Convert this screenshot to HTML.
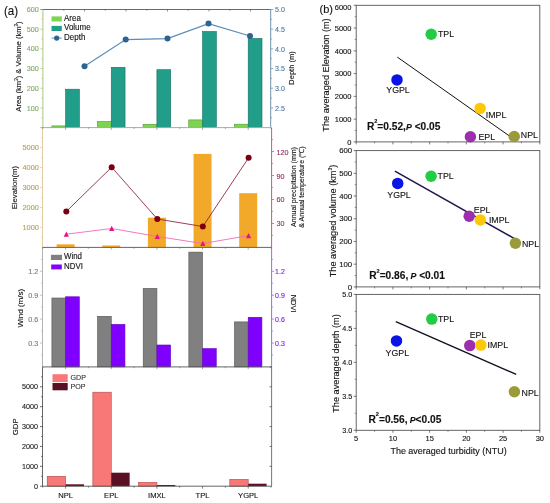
<!DOCTYPE html>
<html><head><meta charset="utf-8"><style>
html,body{margin:0;padding:0;background:#fff;width:550px;height:503px;overflow:hidden}
svg{display:block;will-change:transform}
text{font-family:"Liberation Sans", sans-serif;stroke-width:0.12;paint-order:stroke}
</style></head><body>
<svg width="550" height="503" viewBox="0 0 550 503">
<rect width="550" height="503" fill="#fff"/>
<rect x="51.80" y="125.90" width="13.80" height="1.70" fill="#7ed450" stroke="#4c9a30" stroke-width="0.6"/>
<rect x="65.60" y="89.20" width="13.80" height="38.40" fill="#209e89" stroke="#17705f" stroke-width="0.6"/>
<rect x="97.45" y="121.50" width="13.80" height="6.10" fill="#7ed450" stroke="#4c9a30" stroke-width="0.6"/>
<rect x="111.25" y="67.30" width="13.80" height="60.30" fill="#209e89" stroke="#17705f" stroke-width="0.6"/>
<rect x="143.10" y="124.40" width="13.80" height="3.20" fill="#7ed450" stroke="#4c9a30" stroke-width="0.6"/>
<rect x="156.90" y="69.70" width="13.80" height="57.90" fill="#209e89" stroke="#17705f" stroke-width="0.6"/>
<rect x="188.75" y="119.90" width="13.80" height="7.70" fill="#7ed450" stroke="#4c9a30" stroke-width="0.6"/>
<rect x="202.55" y="31.50" width="13.80" height="96.10" fill="#209e89" stroke="#17705f" stroke-width="0.6"/>
<rect x="234.40" y="124.20" width="13.80" height="3.40" fill="#7ed450" stroke="#4c9a30" stroke-width="0.6"/>
<rect x="248.20" y="38.50" width="13.80" height="89.10" fill="#209e89" stroke="#17705f" stroke-width="0.6"/>
<polyline points="84.50,66.20 125.70,39.60 167.50,38.60 208.50,23.60 250.00,36.00" fill="none" stroke="#5a8cba" stroke-width="1.2"/>
<circle cx="84.50" cy="66.20" r="3.0" fill="#2d6391"/>
<circle cx="125.70" cy="39.60" r="3.0" fill="#2d6391"/>
<circle cx="167.50" cy="38.60" r="3.0" fill="#2d6391"/>
<circle cx="208.50" cy="23.60" r="3.0" fill="#2d6391"/>
<circle cx="250.00" cy="36.00" r="3.0" fill="#2d6391"/>
<line x1="40.40" y1="9.50" x2="270.70" y2="9.50" stroke="#444" stroke-width="0.8"/>
<line x1="63.75" y1="9.50" x2="63.75" y2="10.70" stroke="#444" stroke-width="0.6"/>
<line x1="84.50" y1="9.50" x2="84.50" y2="11.50" stroke="#444" stroke-width="0.6"/>
<line x1="105.25" y1="9.50" x2="105.25" y2="10.70" stroke="#444" stroke-width="0.6"/>
<line x1="126.00" y1="9.50" x2="126.00" y2="11.50" stroke="#444" stroke-width="0.6"/>
<line x1="146.75" y1="9.50" x2="146.75" y2="10.70" stroke="#444" stroke-width="0.6"/>
<line x1="167.50" y1="9.50" x2="167.50" y2="11.50" stroke="#444" stroke-width="0.6"/>
<line x1="188.25" y1="9.50" x2="188.25" y2="10.70" stroke="#444" stroke-width="0.6"/>
<line x1="209.00" y1="9.50" x2="209.00" y2="11.50" stroke="#444" stroke-width="0.6"/>
<line x1="229.75" y1="9.50" x2="229.75" y2="10.70" stroke="#444" stroke-width="0.6"/>
<line x1="250.50" y1="9.50" x2="250.50" y2="11.50" stroke="#444" stroke-width="0.6"/>
<line x1="42.90" y1="9.50" x2="42.90" y2="127.60" stroke="#9cc46c" stroke-width="0.9"/>
<line x1="41.40" y1="117.76" x2="42.90" y2="117.76" stroke="#9cc46c" stroke-width="0.6"/>
<line x1="40.40" y1="107.92" x2="42.90" y2="107.92" stroke="#9cc46c" stroke-width="0.7"/>
<text x="0" y="0" font-size="7.250" fill="#86a86a" stroke="#86a86a" text-anchor="end" font-weight="normal" transform="translate(38.80 110.52) scale(1 1.04)">100</text>
<line x1="41.40" y1="98.07" x2="42.90" y2="98.07" stroke="#9cc46c" stroke-width="0.6"/>
<line x1="40.40" y1="88.23" x2="42.90" y2="88.23" stroke="#9cc46c" stroke-width="0.7"/>
<text x="0" y="0" font-size="7.250" fill="#86a86a" stroke="#86a86a" text-anchor="end" font-weight="normal" transform="translate(38.80 90.83) scale(1 1.04)">200</text>
<line x1="41.40" y1="78.39" x2="42.90" y2="78.39" stroke="#9cc46c" stroke-width="0.6"/>
<line x1="40.40" y1="68.55" x2="42.90" y2="68.55" stroke="#9cc46c" stroke-width="0.7"/>
<text x="0" y="0" font-size="7.250" fill="#86a86a" stroke="#86a86a" text-anchor="end" font-weight="normal" transform="translate(38.80 71.15) scale(1 1.04)">300</text>
<line x1="41.40" y1="58.71" x2="42.90" y2="58.71" stroke="#9cc46c" stroke-width="0.6"/>
<line x1="40.40" y1="48.87" x2="42.90" y2="48.87" stroke="#9cc46c" stroke-width="0.7"/>
<text x="0" y="0" font-size="7.250" fill="#86a86a" stroke="#86a86a" text-anchor="end" font-weight="normal" transform="translate(38.80 51.47) scale(1 1.04)">400</text>
<line x1="41.40" y1="39.02" x2="42.90" y2="39.02" stroke="#9cc46c" stroke-width="0.6"/>
<line x1="40.40" y1="29.18" x2="42.90" y2="29.18" stroke="#9cc46c" stroke-width="0.7"/>
<text x="0" y="0" font-size="7.250" fill="#86a86a" stroke="#86a86a" text-anchor="end" font-weight="normal" transform="translate(38.80 31.78) scale(1 1.04)">500</text>
<line x1="41.40" y1="19.34" x2="42.90" y2="19.34" stroke="#9cc46c" stroke-width="0.6"/>
<line x1="40.40" y1="9.50" x2="42.90" y2="9.50" stroke="#9cc46c" stroke-width="0.7"/>
<text x="0" y="0" font-size="7.250" fill="#86a86a" stroke="#86a86a" text-anchor="end" font-weight="normal" transform="translate(38.80 12.10) scale(1 1.04)">600</text>
<line x1="270.70" y1="9.50" x2="270.70" y2="127.60" stroke="#5f86a8" stroke-width="0.9"/>
<line x1="270.70" y1="117.76" x2="272.20" y2="117.76" stroke="#5f86a8" stroke-width="0.6"/>
<line x1="270.70" y1="107.92" x2="273.20" y2="107.92" stroke="#5f86a8" stroke-width="0.7"/>
<text x="0" y="0" font-size="7.100" fill="#4f7aa0" stroke="#4f7aa0" text-anchor="start" font-weight="normal" transform="translate(275.10 110.62) scale(1 1.04)">2.5</text>
<line x1="270.70" y1="98.08" x2="272.20" y2="98.08" stroke="#5f86a8" stroke-width="0.6"/>
<line x1="270.70" y1="88.23" x2="273.20" y2="88.23" stroke="#5f86a8" stroke-width="0.7"/>
<text x="0" y="0" font-size="7.100" fill="#4f7aa0" stroke="#4f7aa0" text-anchor="start" font-weight="normal" transform="translate(275.10 90.93) scale(1 1.04)">3.0</text>
<line x1="270.70" y1="78.39" x2="272.20" y2="78.39" stroke="#5f86a8" stroke-width="0.6"/>
<line x1="270.70" y1="68.55" x2="273.20" y2="68.55" stroke="#5f86a8" stroke-width="0.7"/>
<text x="0" y="0" font-size="7.100" fill="#4f7aa0" stroke="#4f7aa0" text-anchor="start" font-weight="normal" transform="translate(275.10 71.25) scale(1 1.04)">3.5</text>
<line x1="270.70" y1="58.71" x2="272.20" y2="58.71" stroke="#5f86a8" stroke-width="0.6"/>
<line x1="270.70" y1="48.87" x2="273.20" y2="48.87" stroke="#5f86a8" stroke-width="0.7"/>
<text x="0" y="0" font-size="7.100" fill="#4f7aa0" stroke="#4f7aa0" text-anchor="start" font-weight="normal" transform="translate(275.10 51.57) scale(1 1.04)">4.0</text>
<line x1="270.70" y1="39.03" x2="272.20" y2="39.03" stroke="#5f86a8" stroke-width="0.6"/>
<line x1="270.70" y1="29.18" x2="273.20" y2="29.18" stroke="#5f86a8" stroke-width="0.7"/>
<text x="0" y="0" font-size="7.100" fill="#4f7aa0" stroke="#4f7aa0" text-anchor="start" font-weight="normal" transform="translate(275.10 31.88) scale(1 1.04)">4.5</text>
<line x1="270.70" y1="19.34" x2="272.20" y2="19.34" stroke="#5f86a8" stroke-width="0.6"/>
<line x1="270.70" y1="9.50" x2="273.20" y2="9.50" stroke="#5f86a8" stroke-width="0.7"/>
<text x="0" y="0" font-size="7.100" fill="#4f7aa0" stroke="#4f7aa0" text-anchor="start" font-weight="normal" transform="translate(275.10 12.20) scale(1 1.04)">5.0</text>
<text x="0" y="0" font-size="7.500" fill="#111" stroke="#111" text-anchor="middle" font-weight="normal" transform="translate(293.50 68.00) rotate(-90)">Depth (m)</text>
<rect x="51.50" y="16.40" width="10.30" height="5.10" fill="#7ed450"/>
<rect x="51.50" y="25.90" width="10.30" height="5.10" fill="#209e89"/>
<line x1="51.50" y1="38.10" x2="61.80" y2="38.10" stroke="#4f86b4" stroke-width="0.9"/>
<circle cx="56.70" cy="38.10" r="2.6" fill="#2d6391"/>
<text x="0" y="0" font-size="8.000" fill="#111" stroke="#111" text-anchor="start" font-weight="normal" transform="translate(64.00 20.50) scale(1 1.04)">Area</text>
<text x="0" y="0" font-size="8.000" fill="#111" stroke="#111" text-anchor="start" font-weight="normal" transform="translate(64.00 30.00) scale(1 1.04)">Volume</text>
<text x="0" y="0" font-size="8.000" fill="#111" stroke="#111" text-anchor="start" font-weight="normal" transform="translate(64.00 39.80) scale(1 1.04)">Depth</text>
<text x="0" y="0" font-size="7.600" fill="#111" stroke="#111" text-anchor="middle" font-weight="normal" transform="translate(20.80 66.50) rotate(-90)">Area (km<tspan font-size="4.5" dy="-3">2</tspan><tspan dy="3">) &amp; Volume (km</tspan><tspan font-size="4.5" dy="-3">3</tspan><tspan dy="3">)</tspan></text>
<rect x="56.60" y="244.30" width="18.00" height="3.10" fill="#f2a92a"/>
<rect x="102.25" y="245.50" width="18.00" height="1.90" fill="#f2a92a"/>
<rect x="147.90" y="217.70" width="18.00" height="29.70" fill="#f2a92a"/>
<rect x="193.55" y="153.90" width="18.00" height="93.50" fill="#f2a92a"/>
<rect x="239.20" y="193.20" width="18.00" height="54.20" fill="#f2a92a"/>
<polyline points="66.30,211.50 111.70,167.20 157.30,219.00 202.80,226.50 248.60,157.80" fill="none" stroke="#8e2a40" stroke-width="0.9"/>
<polyline points="66.30,234.20 111.70,228.50 157.30,236.50 202.80,243.50 248.60,235.60" fill="none" stroke="#ef6cb4" stroke-width="0.9"/>
<circle cx="66.30" cy="211.50" r="3.0" fill="#7a0010"/>
<circle cx="111.70" cy="167.20" r="3.0" fill="#7a0010"/>
<circle cx="157.30" cy="219.00" r="3.0" fill="#7a0010"/>
<circle cx="202.80" cy="226.50" r="3.0" fill="#7a0010"/>
<circle cx="248.60" cy="157.80" r="3.0" fill="#7a0010"/>
<polygon points="66.30,231.50 63.66,236.75 68.94,236.75" fill="#ea1088"/>
<polygon points="111.70,225.80 109.06,231.05 114.34,231.05" fill="#ea1088"/>
<polygon points="157.30,233.80 154.66,239.05 159.94,239.05" fill="#ea1088"/>
<polygon points="202.80,240.80 200.16,246.05 205.44,246.05" fill="#ea1088"/>
<polygon points="248.60,232.90 245.96,238.15 251.24,238.15" fill="#ea1088"/>
<line x1="42.50" y1="127.60" x2="42.50" y2="247.40" stroke="#e0c898" stroke-width="0.9"/>
<line x1="41.00" y1="237.42" x2="42.50" y2="237.42" stroke="#e0c898" stroke-width="0.6"/>
<line x1="40.00" y1="227.43" x2="42.50" y2="227.43" stroke="#e0c898" stroke-width="0.7"/>
<text x="0" y="0" font-size="7.400" fill="#b9a050" stroke="#b9a050" text-anchor="end" font-weight="normal" transform="translate(38.90 230.03) scale(1 1.04)">1000</text>
<line x1="41.00" y1="217.45" x2="42.50" y2="217.45" stroke="#e0c898" stroke-width="0.6"/>
<line x1="40.00" y1="207.47" x2="42.50" y2="207.47" stroke="#e0c898" stroke-width="0.7"/>
<text x="0" y="0" font-size="7.400" fill="#b9a050" stroke="#b9a050" text-anchor="end" font-weight="normal" transform="translate(38.90 210.07) scale(1 1.04)">2000</text>
<line x1="41.00" y1="197.48" x2="42.50" y2="197.48" stroke="#e0c898" stroke-width="0.6"/>
<line x1="40.00" y1="187.50" x2="42.50" y2="187.50" stroke="#e0c898" stroke-width="0.7"/>
<text x="0" y="0" font-size="7.400" fill="#b9a050" stroke="#b9a050" text-anchor="end" font-weight="normal" transform="translate(38.90 190.10) scale(1 1.04)">3000</text>
<line x1="41.00" y1="177.52" x2="42.50" y2="177.52" stroke="#e0c898" stroke-width="0.6"/>
<line x1="40.00" y1="167.53" x2="42.50" y2="167.53" stroke="#e0c898" stroke-width="0.7"/>
<text x="0" y="0" font-size="7.400" fill="#b9a050" stroke="#b9a050" text-anchor="end" font-weight="normal" transform="translate(38.90 170.13) scale(1 1.04)">4000</text>
<line x1="41.00" y1="157.55" x2="42.50" y2="157.55" stroke="#e0c898" stroke-width="0.6"/>
<line x1="40.00" y1="147.57" x2="42.50" y2="147.57" stroke="#e0c898" stroke-width="0.7"/>
<text x="0" y="0" font-size="7.400" fill="#b9a050" stroke="#b9a050" text-anchor="end" font-weight="normal" transform="translate(38.90 150.17) scale(1 1.04)">5000</text>
<line x1="41.00" y1="137.58" x2="42.50" y2="137.58" stroke="#e0c898" stroke-width="0.6"/>
<line x1="271.60" y1="127.60" x2="271.60" y2="247.40" stroke="#b84a7e" stroke-width="0.9"/>
<line x1="271.60" y1="235.42" x2="273.10" y2="235.42" stroke="#b84a7e" stroke-width="0.6"/>
<line x1="271.60" y1="223.44" x2="274.10" y2="223.44" stroke="#b84a7e" stroke-width="0.7"/>
<text x="0" y="0" font-size="7.200" fill="#9a2e64" stroke="#9a2e64" text-anchor="start" font-weight="normal" transform="translate(276.60 226.44) scale(1 1.04)">30</text>
<line x1="271.60" y1="211.46" x2="273.10" y2="211.46" stroke="#b84a7e" stroke-width="0.6"/>
<line x1="271.60" y1="199.48" x2="274.10" y2="199.48" stroke="#b84a7e" stroke-width="0.7"/>
<text x="0" y="0" font-size="7.200" fill="#9a2e64" stroke="#9a2e64" text-anchor="start" font-weight="normal" transform="translate(276.60 202.48) scale(1 1.04)">60</text>
<line x1="271.60" y1="187.50" x2="273.10" y2="187.50" stroke="#b84a7e" stroke-width="0.6"/>
<line x1="271.60" y1="175.52" x2="274.10" y2="175.52" stroke="#b84a7e" stroke-width="0.7"/>
<text x="0" y="0" font-size="7.200" fill="#9a2e64" stroke="#9a2e64" text-anchor="start" font-weight="normal" transform="translate(276.60 178.52) scale(1 1.04)">90</text>
<line x1="271.60" y1="163.54" x2="273.10" y2="163.54" stroke="#b84a7e" stroke-width="0.6"/>
<line x1="271.60" y1="151.56" x2="274.10" y2="151.56" stroke="#b84a7e" stroke-width="0.7"/>
<text x="0" y="0" font-size="7.200" fill="#9a2e64" stroke="#9a2e64" text-anchor="start" font-weight="normal" transform="translate(276.60 154.56) scale(1 1.04)">120</text>
<line x1="271.60" y1="139.58" x2="273.10" y2="139.58" stroke="#b84a7e" stroke-width="0.6"/>
<text x="0" y="0" font-size="7.000" fill="#111" stroke="#111" text-anchor="middle" font-weight="normal" transform="translate(295.50 187.00) rotate(-90)">Annual precipitation (mm)</text>
<text x="0" y="0" font-size="7.000" fill="#111" stroke="#111" text-anchor="middle" font-weight="normal" transform="translate(304.00 187.00) rotate(-90)">&amp; Annual temperature (℃)</text>
<text x="0" y="0" font-size="7.750" fill="#111" stroke="#111" text-anchor="middle" font-weight="normal" transform="translate(17.40 187.60) rotate(-90)">Elevation(m)</text>
<line x1="40.40" y1="127.60" x2="270.70" y2="127.60" stroke="#aaa" stroke-width="1.0"/>
<line x1="42.77" y1="127.60" x2="42.77" y2="128.90" stroke="#666" stroke-width="0.6"/>
<line x1="65.60" y1="127.60" x2="65.60" y2="129.80" stroke="#666" stroke-width="0.6"/>
<line x1="88.42" y1="127.60" x2="88.42" y2="128.90" stroke="#666" stroke-width="0.6"/>
<line x1="111.25" y1="127.60" x2="111.25" y2="129.80" stroke="#666" stroke-width="0.6"/>
<line x1="134.07" y1="127.60" x2="134.07" y2="128.90" stroke="#666" stroke-width="0.6"/>
<line x1="156.90" y1="127.60" x2="156.90" y2="129.80" stroke="#666" stroke-width="0.6"/>
<line x1="179.72" y1="127.60" x2="179.72" y2="128.90" stroke="#666" stroke-width="0.6"/>
<line x1="202.55" y1="127.60" x2="202.55" y2="129.80" stroke="#666" stroke-width="0.6"/>
<line x1="225.38" y1="127.60" x2="225.38" y2="128.90" stroke="#666" stroke-width="0.6"/>
<line x1="248.20" y1="127.60" x2="248.20" y2="129.80" stroke="#666" stroke-width="0.6"/>
<line x1="271.02" y1="127.60" x2="271.02" y2="128.90" stroke="#666" stroke-width="0.6"/>
<rect x="51.90" y="298.00" width="13.70" height="68.90" fill="#808080" stroke="#555" stroke-width="0.6"/>
<rect x="65.60" y="296.80" width="13.70" height="70.10" fill="#8000ff" stroke="#6000c0" stroke-width="0.6"/>
<rect x="97.55" y="316.30" width="13.70" height="50.60" fill="#808080" stroke="#555" stroke-width="0.6"/>
<rect x="111.25" y="324.40" width="13.70" height="42.50" fill="#8000ff" stroke="#6000c0" stroke-width="0.6"/>
<rect x="143.20" y="288.40" width="13.70" height="78.50" fill="#808080" stroke="#555" stroke-width="0.6"/>
<rect x="156.90" y="345.00" width="13.70" height="21.90" fill="#8000ff" stroke="#6000c0" stroke-width="0.6"/>
<rect x="188.85" y="252.10" width="13.70" height="114.80" fill="#808080" stroke="#555" stroke-width="0.6"/>
<rect x="202.55" y="348.60" width="13.70" height="18.30" fill="#8000ff" stroke="#6000c0" stroke-width="0.6"/>
<rect x="234.50" y="321.90" width="13.70" height="45.00" fill="#808080" stroke="#555" stroke-width="0.6"/>
<rect x="248.20" y="317.30" width="13.70" height="49.60" fill="#8000ff" stroke="#6000c0" stroke-width="0.6"/>
<line x1="42.50" y1="247.40" x2="42.50" y2="366.90" stroke="#aaa" stroke-width="0.9"/>
<line x1="41.00" y1="354.95" x2="42.50" y2="354.95" stroke="#aaa" stroke-width="0.6"/>
<line x1="40.00" y1="343.00" x2="42.50" y2="343.00" stroke="#aaa" stroke-width="0.7"/>
<text x="0" y="0" font-size="7.300" fill="#7a7a7a" stroke="#7a7a7a" text-anchor="end" font-weight="normal" transform="translate(38.40 345.60) scale(1 1.04)">0.3</text>
<line x1="41.00" y1="331.05" x2="42.50" y2="331.05" stroke="#aaa" stroke-width="0.6"/>
<line x1="40.00" y1="319.10" x2="42.50" y2="319.10" stroke="#aaa" stroke-width="0.7"/>
<text x="0" y="0" font-size="7.300" fill="#7a7a7a" stroke="#7a7a7a" text-anchor="end" font-weight="normal" transform="translate(38.40 321.70) scale(1 1.04)">0.6</text>
<line x1="41.00" y1="307.15" x2="42.50" y2="307.15" stroke="#aaa" stroke-width="0.6"/>
<line x1="40.00" y1="295.20" x2="42.50" y2="295.20" stroke="#aaa" stroke-width="0.7"/>
<text x="0" y="0" font-size="7.300" fill="#7a7a7a" stroke="#7a7a7a" text-anchor="end" font-weight="normal" transform="translate(38.40 297.80) scale(1 1.04)">0.9</text>
<line x1="41.00" y1="283.25" x2="42.50" y2="283.25" stroke="#aaa" stroke-width="0.6"/>
<line x1="40.00" y1="271.30" x2="42.50" y2="271.30" stroke="#aaa" stroke-width="0.7"/>
<text x="0" y="0" font-size="7.300" fill="#7a7a7a" stroke="#7a7a7a" text-anchor="end" font-weight="normal" transform="translate(38.40 273.90) scale(1 1.04)">1.2</text>
<line x1="41.00" y1="259.35" x2="42.50" y2="259.35" stroke="#aaa" stroke-width="0.6"/>
<line x1="271.60" y1="247.40" x2="271.60" y2="366.90" stroke="#9b55f5" stroke-width="0.9"/>
<line x1="271.60" y1="354.95" x2="273.10" y2="354.95" stroke="#9b55f5" stroke-width="0.6"/>
<line x1="271.60" y1="343.00" x2="274.10" y2="343.00" stroke="#9b55f5" stroke-width="0.7"/>
<text x="0" y="0" font-size="7.000" fill="#7a22e6" stroke="#7a22e6" text-anchor="start" font-weight="normal" transform="translate(275.10 345.50) scale(1 1.04)">0.3</text>
<line x1="271.60" y1="331.05" x2="273.10" y2="331.05" stroke="#9b55f5" stroke-width="0.6"/>
<line x1="271.60" y1="319.10" x2="274.10" y2="319.10" stroke="#9b55f5" stroke-width="0.7"/>
<text x="0" y="0" font-size="7.000" fill="#7a22e6" stroke="#7a22e6" text-anchor="start" font-weight="normal" transform="translate(275.10 321.60) scale(1 1.04)">0.6</text>
<line x1="271.60" y1="307.15" x2="273.10" y2="307.15" stroke="#9b55f5" stroke-width="0.6"/>
<line x1="271.60" y1="295.20" x2="274.10" y2="295.20" stroke="#9b55f5" stroke-width="0.7"/>
<text x="0" y="0" font-size="7.000" fill="#7a22e6" stroke="#7a22e6" text-anchor="start" font-weight="normal" transform="translate(275.10 297.70) scale(1 1.04)">0.9</text>
<line x1="271.60" y1="283.25" x2="273.10" y2="283.25" stroke="#9b55f5" stroke-width="0.6"/>
<line x1="271.60" y1="271.30" x2="274.10" y2="271.30" stroke="#9b55f5" stroke-width="0.7"/>
<text x="0" y="0" font-size="7.000" fill="#7a22e6" stroke="#7a22e6" text-anchor="start" font-weight="normal" transform="translate(275.10 273.80) scale(1 1.04)">1.2</text>
<line x1="271.60" y1="259.35" x2="273.10" y2="259.35" stroke="#9b55f5" stroke-width="0.6"/>
<text x="0" y="0" font-size="7.500" fill="#111" stroke="#111" text-anchor="middle" font-weight="normal" transform="translate(291.00 303.60) rotate(90)">NDVI</text>
<text x="0" y="0" font-size="8.000" fill="#111" stroke="#111" text-anchor="middle" font-weight="normal" transform="translate(23.40 308.20) rotate(-90)">Wind (m/s)</text>
<rect x="51.20" y="255.10" width="10.60" height="4.70" fill="#808080" stroke="#666" stroke-width="0.5"/>
<rect x="51.20" y="264.50" width="10.60" height="4.90" fill="#8000ff"/>
<text x="0" y="0" font-size="7.900" fill="#111" stroke="#111" text-anchor="start" font-weight="normal" transform="translate(64.00 258.80) scale(1 1.04)">Wind</text>
<text x="0" y="0" font-size="7.900" fill="#111" stroke="#111" text-anchor="start" font-weight="normal" transform="translate(64.00 268.50) scale(1 1.04)">NDVI</text>
<line x1="42.50" y1="247.40" x2="271.60" y2="247.40" stroke="#555" stroke-width="0.9"/>
<line x1="42.77" y1="247.40" x2="42.77" y2="248.70" stroke="#666" stroke-width="0.6"/>
<line x1="65.60" y1="247.40" x2="65.60" y2="249.60" stroke="#666" stroke-width="0.6"/>
<line x1="88.42" y1="247.40" x2="88.42" y2="248.70" stroke="#666" stroke-width="0.6"/>
<line x1="111.25" y1="247.40" x2="111.25" y2="249.60" stroke="#666" stroke-width="0.6"/>
<line x1="134.07" y1="247.40" x2="134.07" y2="248.70" stroke="#666" stroke-width="0.6"/>
<line x1="156.90" y1="247.40" x2="156.90" y2="249.60" stroke="#666" stroke-width="0.6"/>
<line x1="179.72" y1="247.40" x2="179.72" y2="248.70" stroke="#666" stroke-width="0.6"/>
<line x1="202.55" y1="247.40" x2="202.55" y2="249.60" stroke="#666" stroke-width="0.6"/>
<line x1="225.38" y1="247.40" x2="225.38" y2="248.70" stroke="#666" stroke-width="0.6"/>
<line x1="248.20" y1="247.40" x2="248.20" y2="249.60" stroke="#666" stroke-width="0.6"/>
<line x1="271.02" y1="247.40" x2="271.02" y2="248.70" stroke="#666" stroke-width="0.6"/>
<rect x="47.20" y="476.30" width="18.40" height="9.90" fill="#f87878" stroke="#b04848" stroke-width="0.6"/>
<rect x="65.60" y="484.30" width="18.40" height="1.90" fill="#5a1024"/>
<rect x="92.85" y="392.20" width="18.40" height="94.00" fill="#f87878" stroke="#b04848" stroke-width="0.6"/>
<rect x="111.25" y="472.70" width="18.40" height="13.50" fill="#5a1024"/>
<rect x="138.50" y="482.40" width="18.40" height="3.80" fill="#f87878" stroke="#b04848" stroke-width="0.6"/>
<rect x="156.90" y="485.00" width="18.40" height="1.20" fill="#5a1024"/>
<rect x="229.80" y="479.40" width="18.40" height="6.80" fill="#f87878" stroke="#b04848" stroke-width="0.6"/>
<rect x="248.20" y="483.70" width="18.40" height="2.50" fill="#5a1024"/>
<line x1="42.50" y1="366.90" x2="42.50" y2="486.20" stroke="#555" stroke-width="0.9"/>
<line x1="40.00" y1="486.20" x2="42.50" y2="486.20" stroke="#333" stroke-width="0.7"/>
<text x="0" y="0" font-size="7.200" fill="#222" stroke="#222" text-anchor="end" font-weight="normal" transform="translate(37.90 488.80) scale(1 1.04)">0</text>
<line x1="41.00" y1="476.26" x2="42.50" y2="476.26" stroke="#333" stroke-width="0.6"/>
<line x1="40.00" y1="466.32" x2="42.50" y2="466.32" stroke="#333" stroke-width="0.7"/>
<text x="0" y="0" font-size="7.200" fill="#222" stroke="#222" text-anchor="end" font-weight="normal" transform="translate(37.90 468.92) scale(1 1.04)">1000</text>
<line x1="41.00" y1="456.38" x2="42.50" y2="456.38" stroke="#333" stroke-width="0.6"/>
<line x1="40.00" y1="446.43" x2="42.50" y2="446.43" stroke="#333" stroke-width="0.7"/>
<text x="0" y="0" font-size="7.200" fill="#222" stroke="#222" text-anchor="end" font-weight="normal" transform="translate(37.90 449.03) scale(1 1.04)">2000</text>
<line x1="41.00" y1="436.49" x2="42.50" y2="436.49" stroke="#333" stroke-width="0.6"/>
<line x1="40.00" y1="426.55" x2="42.50" y2="426.55" stroke="#333" stroke-width="0.7"/>
<text x="0" y="0" font-size="7.200" fill="#222" stroke="#222" text-anchor="end" font-weight="normal" transform="translate(37.90 429.15) scale(1 1.04)">3000</text>
<line x1="41.00" y1="416.61" x2="42.50" y2="416.61" stroke="#333" stroke-width="0.6"/>
<line x1="40.00" y1="406.67" x2="42.50" y2="406.67" stroke="#333" stroke-width="0.7"/>
<text x="0" y="0" font-size="7.200" fill="#222" stroke="#222" text-anchor="end" font-weight="normal" transform="translate(37.90 409.27) scale(1 1.04)">4000</text>
<line x1="41.00" y1="396.73" x2="42.50" y2="396.73" stroke="#333" stroke-width="0.6"/>
<line x1="40.00" y1="386.78" x2="42.50" y2="386.78" stroke="#333" stroke-width="0.7"/>
<text x="0" y="0" font-size="7.200" fill="#222" stroke="#222" text-anchor="end" font-weight="normal" transform="translate(37.90 389.38) scale(1 1.04)">5000</text>
<line x1="41.00" y1="376.84" x2="42.50" y2="376.84" stroke="#333" stroke-width="0.6"/>
<line x1="271.60" y1="366.90" x2="271.60" y2="486.20" stroke="#666" stroke-width="0.9"/>
<line x1="269.60" y1="466.32" x2="271.60" y2="466.32" stroke="#333" stroke-width="0.7"/>
<line x1="269.60" y1="446.43" x2="271.60" y2="446.43" stroke="#333" stroke-width="0.7"/>
<line x1="269.60" y1="426.55" x2="271.60" y2="426.55" stroke="#333" stroke-width="0.7"/>
<line x1="269.60" y1="406.67" x2="271.60" y2="406.67" stroke="#333" stroke-width="0.7"/>
<line x1="269.60" y1="386.78" x2="271.60" y2="386.78" stroke="#333" stroke-width="0.7"/>
<line x1="269.60" y1="366.90" x2="271.60" y2="366.90" stroke="#333" stroke-width="0.7"/>
<text x="0" y="0" font-size="7.800" fill="#111" stroke="#111" text-anchor="middle" font-weight="normal" transform="translate(18.40 426.80) rotate(-90)">GDP</text>
<rect x="52.50" y="374.20" width="15.20" height="7.90" fill="#f87878"/>
<rect x="52.50" y="383.00" width="15.20" height="7.30" fill="#5a1024"/>
<text x="0" y="0" font-size="7.100" fill="#333" stroke="#333" text-anchor="start" font-weight="normal" transform="translate(70.50 380.40) scale(1 1.04)">GDP</text>
<text x="0" y="0" font-size="7.100" fill="#333" stroke="#333" text-anchor="start" font-weight="normal" transform="translate(70.50 389.20) scale(1 1.04)">POP</text>
<line x1="42.50" y1="366.90" x2="271.60" y2="366.90" stroke="#555" stroke-width="0.9"/>
<line x1="42.77" y1="366.90" x2="42.77" y2="368.20" stroke="#666" stroke-width="0.6"/>
<line x1="65.60" y1="366.90" x2="65.60" y2="369.10" stroke="#666" stroke-width="0.6"/>
<line x1="88.42" y1="366.90" x2="88.42" y2="368.20" stroke="#666" stroke-width="0.6"/>
<line x1="111.25" y1="366.90" x2="111.25" y2="369.10" stroke="#666" stroke-width="0.6"/>
<line x1="134.07" y1="366.90" x2="134.07" y2="368.20" stroke="#666" stroke-width="0.6"/>
<line x1="156.90" y1="366.90" x2="156.90" y2="369.10" stroke="#666" stroke-width="0.6"/>
<line x1="179.72" y1="366.90" x2="179.72" y2="368.20" stroke="#666" stroke-width="0.6"/>
<line x1="202.55" y1="366.90" x2="202.55" y2="369.10" stroke="#666" stroke-width="0.6"/>
<line x1="225.38" y1="366.90" x2="225.38" y2="368.20" stroke="#666" stroke-width="0.6"/>
<line x1="248.20" y1="366.90" x2="248.20" y2="369.10" stroke="#666" stroke-width="0.6"/>
<line x1="271.02" y1="366.90" x2="271.02" y2="368.20" stroke="#666" stroke-width="0.6"/>
<line x1="42.50" y1="486.20" x2="271.60" y2="486.20" stroke="#555" stroke-width="0.9"/>
<line x1="42.77" y1="486.20" x2="42.77" y2="487.70" stroke="#333" stroke-width="0.6"/>
<line x1="65.60" y1="486.20" x2="65.60" y2="488.70" stroke="#333" stroke-width="0.6"/>
<line x1="88.42" y1="486.20" x2="88.42" y2="487.70" stroke="#333" stroke-width="0.6"/>
<line x1="111.25" y1="486.20" x2="111.25" y2="488.70" stroke="#333" stroke-width="0.6"/>
<line x1="134.07" y1="486.20" x2="134.07" y2="487.70" stroke="#333" stroke-width="0.6"/>
<line x1="156.90" y1="486.20" x2="156.90" y2="488.70" stroke="#333" stroke-width="0.6"/>
<line x1="179.72" y1="486.20" x2="179.72" y2="487.70" stroke="#333" stroke-width="0.6"/>
<line x1="202.55" y1="486.20" x2="202.55" y2="488.70" stroke="#333" stroke-width="0.6"/>
<line x1="225.38" y1="486.20" x2="225.38" y2="487.70" stroke="#333" stroke-width="0.6"/>
<line x1="248.20" y1="486.20" x2="248.20" y2="488.70" stroke="#333" stroke-width="0.6"/>
<line x1="271.02" y1="486.20" x2="271.02" y2="487.70" stroke="#333" stroke-width="0.6"/>
<text x="0" y="0" font-size="7.600" fill="#111" stroke="#111" text-anchor="middle" font-weight="normal" transform="translate(65.60 497.60) scale(1 1.04)">NPL</text>
<text x="0" y="0" font-size="7.600" fill="#111" stroke="#111" text-anchor="middle" font-weight="normal" transform="translate(111.25 497.60) scale(1 1.04)">EPL</text>
<text x="0" y="0" font-size="7.600" fill="#111" stroke="#111" text-anchor="middle" font-weight="normal" transform="translate(156.90 497.60) scale(1 1.04)">IMXL</text>
<text x="0" y="0" font-size="7.600" fill="#111" stroke="#111" text-anchor="middle" font-weight="normal" transform="translate(202.55 497.60) scale(1 1.04)">TPL</text>
<text x="0" y="0" font-size="7.600" fill="#111" stroke="#111" text-anchor="middle" font-weight="normal" transform="translate(248.20 497.60) scale(1 1.04)">YGPL</text>
<text x="0" y="0" font-size="11.600" fill="#111" stroke="#111" text-anchor="start" font-weight="normal" transform="translate(3.90 15.20) scale(1 1.04)">(a)</text>
<rect x="356.2" y="5.3" width="183.60" height="136.60" fill="none" stroke="#555" stroke-width="0.9"/>
<line x1="356.20" y1="141.90" x2="356.20" y2="144.40" stroke="#444" stroke-width="0.7"/>
<line x1="374.56" y1="141.90" x2="374.56" y2="143.40" stroke="#444" stroke-width="0.6"/>
<line x1="392.92" y1="141.90" x2="392.92" y2="144.40" stroke="#444" stroke-width="0.7"/>
<line x1="411.28" y1="141.90" x2="411.28" y2="143.40" stroke="#444" stroke-width="0.6"/>
<line x1="429.64" y1="141.90" x2="429.64" y2="144.40" stroke="#444" stroke-width="0.7"/>
<line x1="448.00" y1="141.90" x2="448.00" y2="143.40" stroke="#444" stroke-width="0.6"/>
<line x1="466.36" y1="141.90" x2="466.36" y2="144.40" stroke="#444" stroke-width="0.7"/>
<line x1="484.72" y1="141.90" x2="484.72" y2="143.40" stroke="#444" stroke-width="0.6"/>
<line x1="503.08" y1="141.90" x2="503.08" y2="144.40" stroke="#444" stroke-width="0.7"/>
<line x1="521.44" y1="141.90" x2="521.44" y2="143.40" stroke="#444" stroke-width="0.6"/>
<line x1="539.80" y1="141.90" x2="539.80" y2="144.40" stroke="#444" stroke-width="0.7"/>
<rect x="356.2" y="150.6" width="183.60" height="136.30" fill="none" stroke="#555" stroke-width="0.9"/>
<line x1="356.20" y1="286.90" x2="356.20" y2="289.40" stroke="#444" stroke-width="0.7"/>
<line x1="374.56" y1="286.90" x2="374.56" y2="288.40" stroke="#444" stroke-width="0.6"/>
<line x1="392.92" y1="286.90" x2="392.92" y2="289.40" stroke="#444" stroke-width="0.7"/>
<line x1="411.28" y1="286.90" x2="411.28" y2="288.40" stroke="#444" stroke-width="0.6"/>
<line x1="429.64" y1="286.90" x2="429.64" y2="289.40" stroke="#444" stroke-width="0.7"/>
<line x1="448.00" y1="286.90" x2="448.00" y2="288.40" stroke="#444" stroke-width="0.6"/>
<line x1="466.36" y1="286.90" x2="466.36" y2="289.40" stroke="#444" stroke-width="0.7"/>
<line x1="484.72" y1="286.90" x2="484.72" y2="288.40" stroke="#444" stroke-width="0.6"/>
<line x1="503.08" y1="286.90" x2="503.08" y2="289.40" stroke="#444" stroke-width="0.7"/>
<line x1="521.44" y1="286.90" x2="521.44" y2="288.40" stroke="#444" stroke-width="0.6"/>
<line x1="539.80" y1="286.90" x2="539.80" y2="289.40" stroke="#444" stroke-width="0.7"/>
<rect x="356.2" y="294.4" width="183.60" height="135.90" fill="none" stroke="#555" stroke-width="0.9"/>
<line x1="356.20" y1="430.30" x2="356.20" y2="432.80" stroke="#444" stroke-width="0.7"/>
<line x1="374.56" y1="430.30" x2="374.56" y2="431.80" stroke="#444" stroke-width="0.6"/>
<line x1="392.92" y1="430.30" x2="392.92" y2="432.80" stroke="#444" stroke-width="0.7"/>
<line x1="411.28" y1="430.30" x2="411.28" y2="431.80" stroke="#444" stroke-width="0.6"/>
<line x1="429.64" y1="430.30" x2="429.64" y2="432.80" stroke="#444" stroke-width="0.7"/>
<line x1="448.00" y1="430.30" x2="448.00" y2="431.80" stroke="#444" stroke-width="0.6"/>
<line x1="466.36" y1="430.30" x2="466.36" y2="432.80" stroke="#444" stroke-width="0.7"/>
<line x1="484.72" y1="430.30" x2="484.72" y2="431.80" stroke="#444" stroke-width="0.6"/>
<line x1="503.08" y1="430.30" x2="503.08" y2="432.80" stroke="#444" stroke-width="0.7"/>
<line x1="521.44" y1="430.30" x2="521.44" y2="431.80" stroke="#444" stroke-width="0.6"/>
<line x1="539.80" y1="430.30" x2="539.80" y2="432.80" stroke="#444" stroke-width="0.7"/>
<line x1="353.70" y1="141.90" x2="356.20" y2="141.90" stroke="#444" stroke-width="0.7"/>
<text x="0" y="0" font-size="7.500" fill="#111" stroke="#111" text-anchor="end" font-weight="normal" transform="translate(351.40 144.60) scale(1 1.04)">0</text>
<line x1="354.70" y1="130.52" x2="356.20" y2="130.52" stroke="#444" stroke-width="0.6"/>
<line x1="353.70" y1="119.13" x2="356.20" y2="119.13" stroke="#444" stroke-width="0.7"/>
<text x="0" y="0" font-size="7.500" fill="#111" stroke="#111" text-anchor="end" font-weight="normal" transform="translate(351.40 121.83) scale(1 1.04)">1000</text>
<line x1="354.70" y1="107.75" x2="356.20" y2="107.75" stroke="#444" stroke-width="0.6"/>
<line x1="353.70" y1="96.37" x2="356.20" y2="96.37" stroke="#444" stroke-width="0.7"/>
<text x="0" y="0" font-size="7.500" fill="#111" stroke="#111" text-anchor="end" font-weight="normal" transform="translate(351.40 99.07) scale(1 1.04)">2000</text>
<line x1="354.70" y1="84.98" x2="356.20" y2="84.98" stroke="#444" stroke-width="0.6"/>
<line x1="353.70" y1="73.60" x2="356.20" y2="73.60" stroke="#444" stroke-width="0.7"/>
<text x="0" y="0" font-size="7.500" fill="#111" stroke="#111" text-anchor="end" font-weight="normal" transform="translate(351.40 76.30) scale(1 1.04)">3000</text>
<line x1="354.70" y1="62.22" x2="356.20" y2="62.22" stroke="#444" stroke-width="0.6"/>
<line x1="353.70" y1="50.83" x2="356.20" y2="50.83" stroke="#444" stroke-width="0.7"/>
<text x="0" y="0" font-size="7.500" fill="#111" stroke="#111" text-anchor="end" font-weight="normal" transform="translate(351.40 53.53) scale(1 1.04)">4000</text>
<line x1="354.70" y1="39.45" x2="356.20" y2="39.45" stroke="#444" stroke-width="0.6"/>
<line x1="353.70" y1="28.07" x2="356.20" y2="28.07" stroke="#444" stroke-width="0.7"/>
<text x="0" y="0" font-size="7.500" fill="#111" stroke="#111" text-anchor="end" font-weight="normal" transform="translate(351.40 30.77) scale(1 1.04)">5000</text>
<line x1="354.70" y1="16.68" x2="356.20" y2="16.68" stroke="#444" stroke-width="0.6"/>
<line x1="353.70" y1="5.30" x2="356.20" y2="5.30" stroke="#444" stroke-width="0.7"/>
<text x="0" y="0" font-size="7.500" fill="#111" stroke="#111" text-anchor="end" font-weight="normal" transform="translate(351.40 9.70) scale(1 1.04)">6000</text>
<text x="0" y="0" font-size="9.200" fill="#111" stroke="#111" text-anchor="middle" font-weight="normal" transform="translate(328.80 75.00) rotate(-90)">The averaged Elevation (m)</text>
<line x1="397.30" y1="57.10" x2="510.00" y2="136.40" stroke="#111" stroke-width="1.0"/>
<circle cx="431.20" cy="34.20" r="5.75" fill="#22cc44"/>
<circle cx="397.00" cy="79.90" r="5.75" fill="#0a14e6"/>
<circle cx="480.10" cy="108.40" r="5.75" fill="#ffc805"/>
<circle cx="470.40" cy="136.80" r="5.75" fill="#9b2fae"/>
<circle cx="514.20" cy="136.50" r="5.75" fill="#9a9a3a"/>
<text x="0" y="0" font-size="8.800" fill="#111" stroke="#111" text-anchor="start" font-weight="normal" transform="translate(438.00 36.90) scale(1 1.04)">TPL</text>
<text x="0" y="0" font-size="8.800" fill="#111" stroke="#111" text-anchor="middle" font-weight="normal" transform="translate(398.00 92.90) scale(1 1.04)">YGPL</text>
<text x="0" y="0" font-size="8.800" fill="#111" stroke="#111" text-anchor="start" font-weight="normal" transform="translate(485.80 117.70) scale(1 1.04)">IMPL</text>
<text x="0" y="0" font-size="8.800" fill="#111" stroke="#111" text-anchor="start" font-weight="normal" transform="translate(478.40 139.60) scale(1 1.04)">EPL</text>
<text x="0" y="0" font-size="8.800" fill="#111" stroke="#111" text-anchor="start" font-weight="normal" transform="translate(520.80 138.00) scale(1 1.04)">NPL</text>
<text x="0" y="0" font-size="10.200" fill="#111" stroke="#111" text-anchor="start" font-weight="bold" transform="translate(366.90 129.70) scale(1 1.04)">R<tspan font-size="5.5" dy="-6.0">2</tspan><tspan dy="6.0">=0.52,</tspan><tspan font-style="italic" font-size="8.8">P</tspan> &lt;0.05</text>
<text x="0" y="0" font-size="11.000" fill="#111" stroke="#111" text-anchor="start" font-weight="normal" transform="translate(319.50 12.60) scale(1 1.04)">(b)</text>
<line x1="353.70" y1="286.90" x2="356.20" y2="286.90" stroke="#444" stroke-width="0.7"/>
<text x="0" y="0" font-size="7.800" fill="#111" stroke="#111" text-anchor="end" font-weight="normal" transform="translate(352.20 289.60) scale(1 1.04)">0</text>
<line x1="354.70" y1="275.54" x2="356.20" y2="275.54" stroke="#444" stroke-width="0.6"/>
<line x1="353.70" y1="264.18" x2="356.20" y2="264.18" stroke="#444" stroke-width="0.7"/>
<text x="0" y="0" font-size="7.800" fill="#111" stroke="#111" text-anchor="end" font-weight="normal" transform="translate(352.20 266.88) scale(1 1.04)">100</text>
<line x1="354.70" y1="252.82" x2="356.20" y2="252.82" stroke="#444" stroke-width="0.6"/>
<line x1="353.70" y1="241.47" x2="356.20" y2="241.47" stroke="#444" stroke-width="0.7"/>
<text x="0" y="0" font-size="7.800" fill="#111" stroke="#111" text-anchor="end" font-weight="normal" transform="translate(352.20 244.17) scale(1 1.04)">200</text>
<line x1="354.70" y1="230.11" x2="356.20" y2="230.11" stroke="#444" stroke-width="0.6"/>
<line x1="353.70" y1="218.75" x2="356.20" y2="218.75" stroke="#444" stroke-width="0.7"/>
<text x="0" y="0" font-size="7.800" fill="#111" stroke="#111" text-anchor="end" font-weight="normal" transform="translate(352.20 221.45) scale(1 1.04)">300</text>
<line x1="354.70" y1="207.39" x2="356.20" y2="207.39" stroke="#444" stroke-width="0.6"/>
<line x1="353.70" y1="196.03" x2="356.20" y2="196.03" stroke="#444" stroke-width="0.7"/>
<text x="0" y="0" font-size="7.800" fill="#111" stroke="#111" text-anchor="end" font-weight="normal" transform="translate(352.20 198.73) scale(1 1.04)">400</text>
<line x1="354.70" y1="184.67" x2="356.20" y2="184.67" stroke="#444" stroke-width="0.6"/>
<line x1="353.70" y1="173.32" x2="356.20" y2="173.32" stroke="#444" stroke-width="0.7"/>
<text x="0" y="0" font-size="7.800" fill="#111" stroke="#111" text-anchor="end" font-weight="normal" transform="translate(352.20 176.02) scale(1 1.04)">500</text>
<line x1="354.70" y1="161.96" x2="356.20" y2="161.96" stroke="#444" stroke-width="0.6"/>
<line x1="353.70" y1="150.60" x2="356.20" y2="150.60" stroke="#444" stroke-width="0.7"/>
<text x="0" y="0" font-size="7.800" fill="#111" stroke="#111" text-anchor="end" font-weight="normal" transform="translate(352.20 153.30) scale(1 1.04)">600</text>
<text x="0" y="0" font-size="9.200" fill="#111" stroke="#111" text-anchor="middle" font-weight="normal" transform="translate(335.50 221.00) rotate(-90)">The averaged volume (km<tspan font-size="5" dy="-3.5">3</tspan><tspan dy="3.5">)</tspan></text>
<line x1="394.90" y1="171.10" x2="514.40" y2="238.60" stroke="#221448" stroke-width="1.5"/>
<circle cx="431.10" cy="176.20" r="5.75" fill="#22cc44"/>
<circle cx="397.70" cy="183.40" r="5.75" fill="#0a14e6"/>
<circle cx="469.20" cy="216.30" r="5.75" fill="#9b2fae"/>
<circle cx="480.30" cy="219.90" r="5.75" fill="#ffc805"/>
<circle cx="515.40" cy="243.20" r="5.75" fill="#9a9a3a"/>
<text x="0" y="0" font-size="8.800" fill="#111" stroke="#111" text-anchor="start" font-weight="normal" transform="translate(437.60 179.40) scale(1 1.04)">TPL</text>
<text x="0" y="0" font-size="8.800" fill="#111" stroke="#111" text-anchor="middle" font-weight="normal" transform="translate(399.00 198.40) scale(1 1.04)">YGPL</text>
<text x="0" y="0" font-size="8.800" fill="#111" stroke="#111" text-anchor="start" font-weight="normal" transform="translate(473.80 212.50) scale(1 1.04)">EPL</text>
<text x="0" y="0" font-size="8.800" fill="#111" stroke="#111" text-anchor="start" font-weight="normal" transform="translate(488.90 222.60) scale(1 1.04)">IMPL</text>
<text x="0" y="0" font-size="8.800" fill="#111" stroke="#111" text-anchor="start" font-weight="normal" transform="translate(522.00 247.00) scale(1 1.04)">NPL</text>
<text x="0" y="0" font-size="10.200" fill="#111" stroke="#111" text-anchor="start" font-weight="bold" transform="translate(369.20 279.00) scale(1 1.04)">R<tspan font-size="5.5" dy="-6.0">2</tspan><tspan dy="6.0">=0.86,</tspan><tspan dx="2.2" font-style="italic" font-size="8.8">P</tspan> &lt;0.01</text>
<line x1="353.70" y1="430.30" x2="356.20" y2="430.30" stroke="#444" stroke-width="0.7"/>
<text x="0" y="0" font-size="7.200" fill="#111" stroke="#111" text-anchor="end" font-weight="normal" transform="translate(352.20 432.90) scale(1 1.04)">3.0</text>
<line x1="354.70" y1="413.31" x2="356.20" y2="413.31" stroke="#444" stroke-width="0.6"/>
<line x1="353.70" y1="396.32" x2="356.20" y2="396.32" stroke="#444" stroke-width="0.7"/>
<text x="0" y="0" font-size="7.200" fill="#111" stroke="#111" text-anchor="end" font-weight="normal" transform="translate(352.20 398.93) scale(1 1.04)">3.5</text>
<line x1="354.70" y1="379.34" x2="356.20" y2="379.34" stroke="#444" stroke-width="0.6"/>
<line x1="353.70" y1="362.35" x2="356.20" y2="362.35" stroke="#444" stroke-width="0.7"/>
<text x="0" y="0" font-size="7.200" fill="#111" stroke="#111" text-anchor="end" font-weight="normal" transform="translate(352.20 364.95) scale(1 1.04)">4.0</text>
<line x1="354.70" y1="345.36" x2="356.20" y2="345.36" stroke="#444" stroke-width="0.6"/>
<line x1="353.70" y1="328.38" x2="356.20" y2="328.38" stroke="#444" stroke-width="0.7"/>
<text x="0" y="0" font-size="7.200" fill="#111" stroke="#111" text-anchor="end" font-weight="normal" transform="translate(352.20 330.98) scale(1 1.04)">4.5</text>
<line x1="354.70" y1="311.39" x2="356.20" y2="311.39" stroke="#444" stroke-width="0.6"/>
<line x1="353.70" y1="294.40" x2="356.20" y2="294.40" stroke="#444" stroke-width="0.7"/>
<text x="0" y="0" font-size="7.200" fill="#111" stroke="#111" text-anchor="end" font-weight="normal" transform="translate(352.20 297.00) scale(1 1.04)">5.0</text>
<text x="0" y="0" font-size="9.200" fill="#111" stroke="#111" text-anchor="middle" font-weight="normal" transform="translate(339.00 363.50) rotate(-90)">The averaged depth (m)</text>
<line x1="395.80" y1="321.60" x2="516.20" y2="374.40" stroke="#111122" stroke-width="1.4"/>
<circle cx="431.80" cy="319.10" r="5.75" fill="#22cc44"/>
<circle cx="396.50" cy="340.90" r="5.75" fill="#0a14e6"/>
<circle cx="469.80" cy="345.60" r="5.75" fill="#9b2fae"/>
<circle cx="480.90" cy="345.10" r="5.75" fill="#ffc805"/>
<circle cx="514.40" cy="391.80" r="5.75" fill="#9a9a3a"/>
<text x="0" y="0" font-size="8.800" fill="#111" stroke="#111" text-anchor="start" font-weight="normal" transform="translate(438.00 322.40) scale(1 1.04)">TPL</text>
<text x="0" y="0" font-size="8.800" fill="#111" stroke="#111" text-anchor="middle" font-weight="normal" transform="translate(397.30 356.10) scale(1 1.04)">YGPL</text>
<text x="0" y="0" font-size="8.800" fill="#111" stroke="#111" text-anchor="middle" font-weight="normal" transform="translate(478.00 337.60) scale(1 1.04)">EPL</text>
<text x="0" y="0" font-size="8.800" fill="#111" stroke="#111" text-anchor="start" font-weight="normal" transform="translate(487.50 347.70) scale(1 1.04)">IMPL</text>
<text x="0" y="0" font-size="8.800" fill="#111" stroke="#111" text-anchor="start" font-weight="normal" transform="translate(521.60 395.70) scale(1 1.04)">NPL</text>
<text x="0" y="0" font-size="10.200" fill="#111" stroke="#111" text-anchor="start" font-weight="bold" transform="translate(368.50 422.50) scale(1 1.04)">R<tspan font-size="5.5" dy="-6.0">2</tspan><tspan dy="6.0">=0.56,</tspan><tspan dx="2.2" font-style="italic" font-size="8.8">P</tspan>&lt;0.05</text>
<text x="0" y="0" font-size="7.500" fill="#111" stroke="#111" text-anchor="middle" font-weight="normal" transform="translate(356.20 441.00) scale(1 1.04)">5</text>
<text x="0" y="0" font-size="7.500" fill="#111" stroke="#111" text-anchor="middle" font-weight="normal" transform="translate(392.92 441.00) scale(1 1.04)">10</text>
<text x="0" y="0" font-size="7.500" fill="#111" stroke="#111" text-anchor="middle" font-weight="normal" transform="translate(429.64 441.00) scale(1 1.04)">15</text>
<text x="0" y="0" font-size="7.500" fill="#111" stroke="#111" text-anchor="middle" font-weight="normal" transform="translate(466.36 441.00) scale(1 1.04)">20</text>
<text x="0" y="0" font-size="7.500" fill="#111" stroke="#111" text-anchor="middle" font-weight="normal" transform="translate(503.08 441.00) scale(1 1.04)">25</text>
<text x="0" y="0" font-size="7.500" fill="#111" stroke="#111" text-anchor="middle" font-weight="normal" transform="translate(539.80 441.00) scale(1 1.04)">30</text>
<text x="0" y="0" font-size="9.000" fill="#111" stroke="#111" text-anchor="middle" font-weight="normal" transform="translate(448.60 454.30) scale(1 1.04)">The averaged turbidity (NTU)</text>
</svg>
</body></html>
